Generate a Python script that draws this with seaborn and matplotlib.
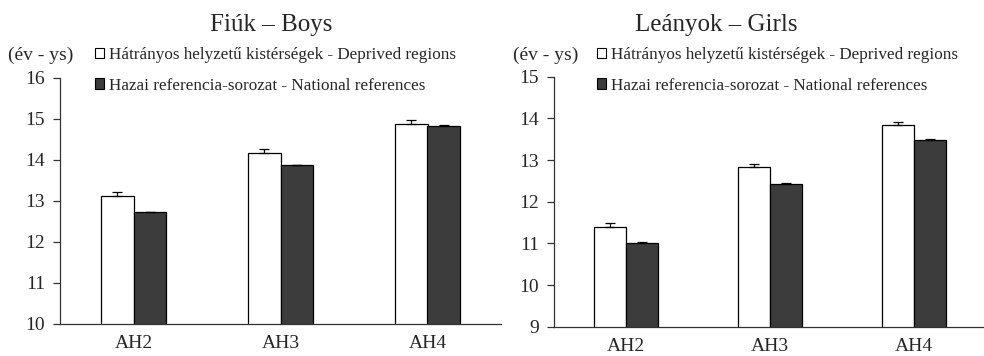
import pandas as pd
import numpy as np
import matplotlib
matplotlib.use("Agg")
import matplotlib.pyplot as plt
import seaborn as sns
from matplotlib.patches import Patch

categories = ['AH2', 'AH3', 'AH4']
series_names = ['Hátrányos helyzetű kistérségek - Deprived regions',
                'Hazai referencia-sorozat - National references']

boys_deprived = [13.12, 14.17, 14.89]
boys_deprived_err = [0.09, 0.10, 0.08]
boys_national = [12.72, 13.87, 14.84]
boys_national_err = [0.02, 0.02, 0.02]

girls_deprived = [11.40, 12.83, 13.84]
girls_deprived_err = [0.10, 0.08, 0.07]
girls_national = [11.02, 12.43, 13.48]
girls_national_err = [0.02, 0.02, 0.02]

titles = ['Fiúk – Boys', 'Leányok – Girls']
ylims = [(10, 16), (9, 15)]
ylabel = '(év - ys)'

sns.set_theme(style='white')
plt.rcParams['font.family'] = ['Liberation Serif', 'DejaVu Serif']

dark = '#3c3c3c'
palette = ['white', dark]


def panel(fig, rect, dep, dep_err, nat, nat_err, title, ylim, title_x, ylab_x, leg_x):
    """Dibuja un panel de barras agrupadas con barras de error hacia arriba."""
    ax = fig.add_axes(rect)
    df = pd.DataFrame({
        'cat': categories * 2,
        'serie': [series_names[0]] * 3 + [series_names[1]] * 3,
        'valor': dep + nat,
    })
    sns.barplot(data=df, x='cat', y='valor', hue='serie', palette=palette,
                errorbar=None, width=0.44, edgecolor='black', linewidth=0.9,
                legend=False, ax=ax)

    # barras de error (solo hacia arriba)
    errs = [dep_err, nat_err]
    bar_conts = list(ax.containers)
    for k, cont in enumerate(bar_conts):
        xs = [p.get_x() + p.get_width() / 2 for p in cont.patches]
        ys = [p.get_height() + p.get_y() for p in cont.patches]
        ax.errorbar(xs, ys, yerr=[np.zeros(3), errs[k]], fmt='none',
                    ecolor='black', elinewidth=0.9, capsize=3.5, capthick=0.9)

    ax.set_ylim(*ylim)
    ax.set_xlim(-0.5, 2.5)
    ax.set_yticks(range(ylim[0], ylim[1] + 1))
    ax.set_xlabel('')
    ax.set_ylabel('')
    ax.set_xticks([0.5, 1.5, -0.5], minor=True)
    ax.tick_params(axis='x', which='major', length=0, labelsize=14, pad=8)
    ax.tick_params(axis='x', which='minor', length=5, width=0.9, color='#333333', direction='out')
    ax.tick_params(axis='y', length=5, width=0.9, color='#333333', direction='out',
                   labelsize=14, pad=6, left=True)
    sns.despine(ax=ax)
    for s in ['left', 'bottom']:
        ax.spines[s].set_color('#333333')
        ax.spines[s].set_linewidth(0.9)

    fig.text(title_x, 1 - 31 / 356, title, fontsize=18, ha='center', va='baseline')
    fig.text(ylab_x, 1 - 55 / 356, ylabel, fontsize=14, ha='left', va='center')

    handles = [Patch(facecolor='white', edgecolor='black', linewidth=0.8),
               Patch(facecolor=dark, edgecolor='black', linewidth=0.8)]
    fig.legend(handles, series_names, loc='upper left',
               bbox_to_anchor=(leg_x, 1 - 47 / 356), frameon=False,
               fontsize=12.3, handlelength=0.55, handleheight=0.55,
               handletextpad=0.25, labelspacing=0.85, borderpad=0, borderaxespad=0)
    return ax


fig = plt.figure(figsize=(9.84, 3.56), dpi=100)

panel(fig, [60 / 984, 1 - 324 / 356, 441 / 984, 246 / 356],
      boys_deprived, boys_deprived_err, boys_national, boys_national_err,
      titles[0], ylims[0], 271 / 984, 8 / 984, 95 / 984)
panel(fig, [554 / 984, 1 - 326.7 / 356, 432 / 984, 250 / 356],
      girls_deprived, girls_deprived_err, girls_national, girls_national_err,
      titles[1], ylims[1], 716 / 984, 513 / 984, 597 / 984)

fig.savefig('out.png', dpi=100)
